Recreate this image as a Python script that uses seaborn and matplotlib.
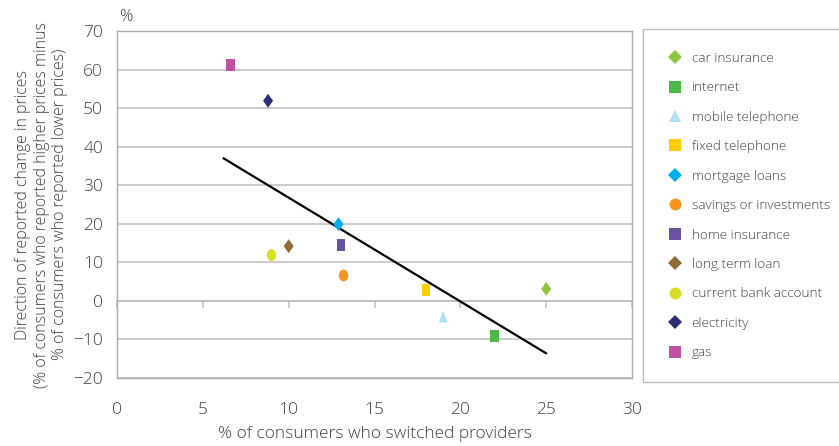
import numpy as np
import matplotlib.pyplot as plt
from matplotlib.lines import Line2D
import seaborn as sns

services = ["car insurance", "internet", "mobile telephone", "fixed telephone",
            "mortgage loans", "savings or investments", "home insurance",
            "long term loan", "current bank account", "electricity", "gas"]
switched = [25.0, 22.0, 19.0, 18.0, 12.9, 13.2, 13.05, 10.0, 9.0, 8.8, 6.6]
price_change = [3.1, -9.1, -4.1, 2.9, 19.9, 6.6, 14.4, 14.2, 11.9, 51.9, 61.1]
colors = ["#8DC63F", "#4DB848", "#ADDFF5", "#FFCC00", "#00AEEF", "#F7941D",
          "#6952A1", "#8C6D3A", "#D7DF23", "#2B2E77", "#BE52A0"]
shapes = ["diamond", "square", "triangle", "square", "diamond", "circle",
          "square", "diamond", "circle", "diamond", "square"]

# trend line as drawn in the source
trend_x = [6.2, 25.0]
trend_y = [37.0, -13.6]

sns.set_style("white")
plt.rcParams["font.family"] = ["Open Sans", "DejaVu Sans"]
text_col = "#404040"
grid_col = "#BDBDBD"

# slightly tall markers, like the original
t = np.linspace(0, 2 * np.pi, 41)
tall = {
    "diamond": [(0, 1), (0.72, 0), (0, -1), (-0.72, 0), (0, 1)],
    "square": [(-0.75, -1), (0.75, -1), (0.75, 1), (-0.75, 1), (-0.75, -1)],
    "triangle": [(-0.75, -1), (0.75, -1), (0, 1), (-0.75, -1)],
    "circle": list(zip(0.8 * np.cos(t), np.sin(t))),
}
area = {"diamond": 100, "square": 72, "triangle": 72, "circle": 72}
legend_marker = {"diamond": ("D", 7), "square": ("s", 8.6),
                 "triangle": ("^", 9), "circle": ("o", 8.6)}

fig = plt.figure(figsize=(8.39, 4.46), dpi=100)
ax = fig.add_axes([117 / 839, 1 - 378 / 446, (632 - 117) / 839, (378 - 31) / 446])

sns.scatterplot(x=switched, y=price_change, hue=services, style=services,
                size=shapes, sizes=area,
                palette=dict(zip(services, colors)),
                markers={s: tall[m] for s, m in zip(services, shapes)},
                linewidth=0, legend=False, ax=ax, zorder=3)
sns.lineplot(x=trend_x, y=trend_y, color="black", linewidth=1.6, ax=ax, zorder=2)

ax.set_xlim(0, 30)
ax.set_ylim(-20, 70)
ax.set_xticks(range(0, 31, 5))
ax.set_yticks(range(-20, 71, 10))
ax.yaxis.grid(True, color=grid_col, linewidth=1.1)
ax.set_axisbelow(True)
for sp in ax.spines.values():
    sp.set_color("#ABABAB")
    sp.set_linewidth(1.0)
ax.tick_params(axis="both", length=0, labelsize=12.5, colors=text_col)
ax.tick_params(axis="x", pad=17)
ax.tick_params(axis="y", pad=10)
for lab in ax.get_xticklabels() + ax.get_yticklabels():
    lab.set_fontweight("light")

# ticks sit on the zero line
sec = ax.secondary_xaxis(20 / 90)
sec.set_xticks(range(0, 31, 5))
sec.tick_params(direction="out", length=5, width=1.1, color=grid_col, labelbottom=False)
sec.spines["bottom"].set_color(grid_col)
sec.spines["bottom"].set_linewidth(1.1)

ax.set_xlabel("% of consumers who switched providers", fontsize=12.5,
              color=text_col, labelpad=6, fontweight="light")
ax.set_ylabel("Direction of reported change in prices\n"
              "(% of consumers who reported higher prices minus\n"
              "% of consumers who reported lower prices)",
              fontsize=11.5, color=text_col, linespacing=1.2, fontweight="light")
ax.yaxis.set_label_coords((68 - 117) / 515, 0.5)
fig.text(126 / 839, 1 - 17 / 446, "%", fontsize=12, color=text_col,
         ha="center", va="center", fontweight="light")

handles = [Line2D([], [], linestyle="none", marker=legend_marker[m][0], color=c,
                  markersize=legend_marker[m][1], markeredgewidth=0)
           for c, m in zip(colors, shapes)]
leg = fig.legend(handles, services, loc="upper left",
                 bbox_to_anchor=(643 / 839, 1 - 29 / 446),
                 frameon=True, fancybox=False, labelspacing=1.22,
                 handlelength=1.4, handletextpad=0.5, borderpad=1.7,
                 borderaxespad=0, labelcolor=text_col,
                 prop={"size": 9.7, "weight": "light"})
leg.get_frame().set_edgecolor("#ABABAB")
leg.get_frame().set_linewidth(1.0)

fig.savefig("out.png", dpi=100)
